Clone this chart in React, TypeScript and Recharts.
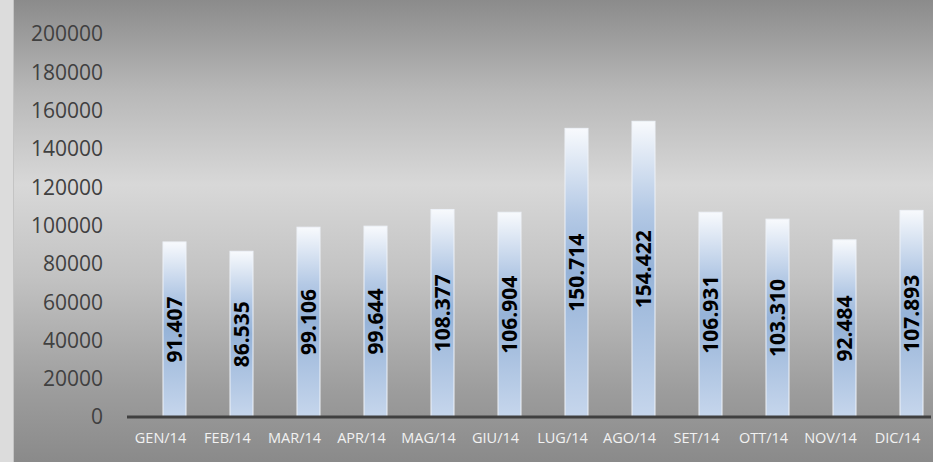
import { Bar, BarChart, XAxis, YAxis } from "recharts";

const months = ["GEN/14", "FEB/14", "MAR/14", "APR/14", "MAG/14", "GIU/14", "LUG/14", "AGO/14", "SET/14", "OTT/14", "NOV/14", "DIC/14"];
const visits = [91407, 86535, 99106, 99644, 108377, 106904, 150714, 154422, 106931, 103310, 92484, 107893];
const yTicks = [0, 20000, 40000, 60000, 80000, 100000, 120000, 140000, 160000, 180000, 200000];

const data = months.map((m, i) => ({ month: m, value: visits[i] }));

const font = "'Open Sans', sans-serif";
// bars sit a bit to the right of their category labels in the original
const BAR_SHIFT = 14;

function fmt(v: number) {
  return String(v).replace(/\B(?=(\d{3})+(?!\d))/g, ".");
}

function GradientBar(props: any) {
  const { x, y, width, height, value } = props;
  if (x == null || height == null) return null;
  const bx = x + BAR_SHIFT;
  const cx = bx + width / 2;
  const cy = y + height / 2;
  return (
    <g>
      <rect x={bx} y={y} width={width} height={height} fill="url(#barFill)" stroke="#eef2f8" strokeWidth={1} />
      <text
        x={cx}
        y={cy}
        transform={`rotate(-90 ${cx} ${cy})`}
        textAnchor="middle"
        dominantBaseline="central"
        fontFamily={font}
        fontWeight={700}
        fontSize={21}
        fill="#000"
      >
        {fmt(Array.isArray(value) ? value[1] : value)}
      </text>
    </g>
  );
}

export default function App() {
  return (
    <div style={{ position: "absolute", left: 0, top: 0, width: 933, height: 462, background: "#dcdcdc", overflow: "hidden" }}>
      <svg width={0} height={0} style={{ position: "absolute" }}>
        <defs>
          <linearGradient id="barFill" x1="0" y1="0" x2="0" y2="1">
            <stop offset="0%" stopColor="#f8fafd" />
            <stop offset="30%" stopColor="#b4c9e5" />
            <stop offset="50%" stopColor="#96b3d8" />
            <stop offset="100%" stopColor="#c6d6ec" />
          </linearGradient>
        </defs>
      </svg>
      <div
        style={{
          position: "absolute",
          left: 13,
          top: 0,
          width: 920,
          height: 462,
          borderLeft: "1px solid #c4c4c4",
          background:
            "linear-gradient(to bottom, #8b8b8b 0%, #b8b8b8 20%, #d8d8d8 40%, #c2c2c2 60%, #9c9c9c 85%, #8a8a8a 100%)",
        }}
      >
        <BarChart width={919} height={462} data={data} margin={{ top: 34, right: 2, bottom: 0, left: 0 }}>
          <XAxis
            dataKey="month"
            axisLine={{ stroke: "#404040", strokeWidth: 3 }}
            tickLine={false}
            tickMargin={10}
            height={45}
            interval={0}
            tick={{ fill: "#f2f2f2", fontSize: 14.5, fontFamily: font }}
          />
          <YAxis
            domain={[0, 200000]}
            ticks={yTicks}
            axisLine={false}
            tickLine={false}
            tickMargin={18}
            width={113}
            tick={{ fill: "#404040", fontSize: 21, fontFamily: font }}
          />
          <Bar dataKey="value" barSize={23} shape={<GradientBar />} isAnimationActive={false} />
        </BarChart>
      </div>
    </div>
  );
}
